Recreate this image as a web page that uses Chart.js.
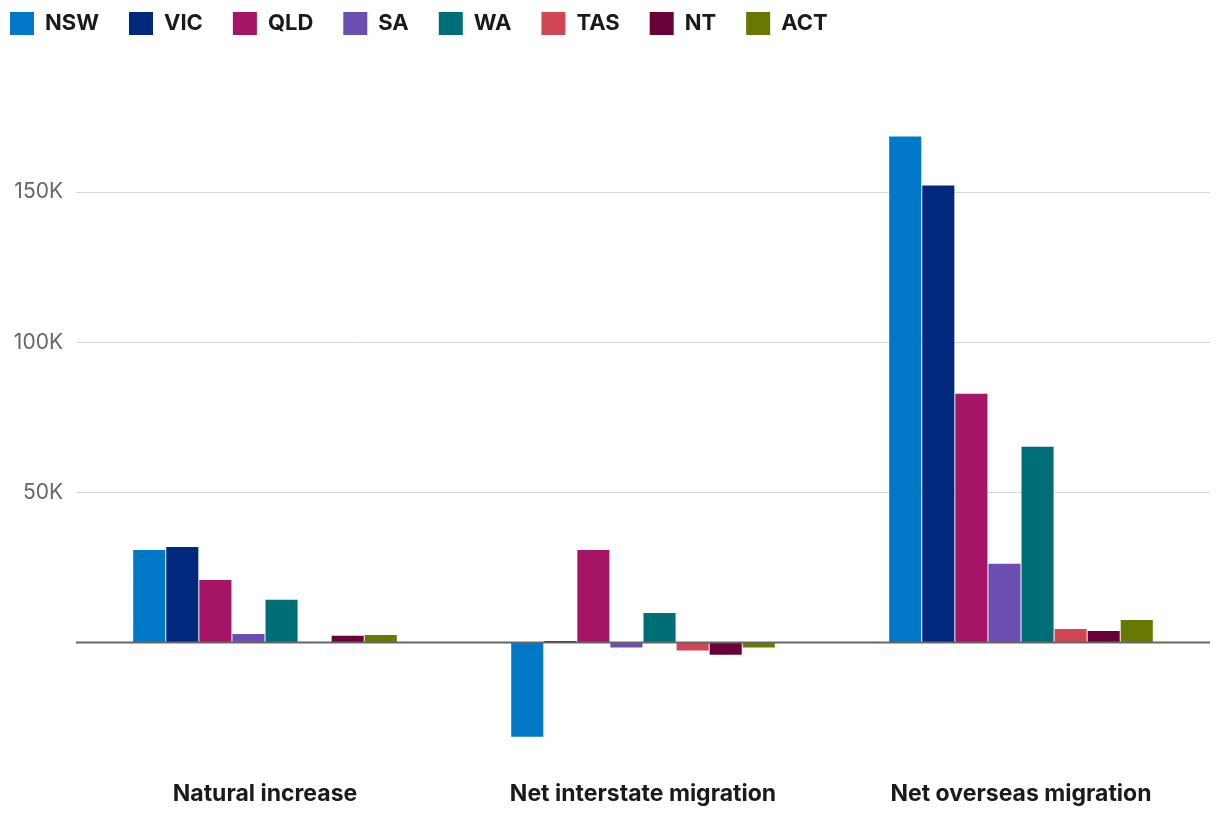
<!DOCTYPE html>
<html>
<head>
<meta charset="utf-8">
<script src="https://cdn.jsdelivr.net/npm/chart.js@4"></script>
<style>
  html, body { margin: 0; padding: 0; background: #fff; }
  #wrap { width: 1220px; height: 822px; position: relative; }
</style>
</head>
<body>
<div id="wrap"><canvas id="c"></canvas></div>
<script>
const categories = ['Natural increase', 'Net interstate migration', 'Net overseas migration'];
const states = ['NSW', 'VIC', 'QLD', 'SA', 'WA', 'TAS', 'NT', 'ACT'];
const nsw = [30800, -31400, 168500];
const vic = [31800, 500, 152200];
const qld = [20800, 30800, 82800];
const sa  = [2800, -1700, 26200];
const wa  = [14200, 9800, 65200];
const tas = [0, -2700, 4500];
const nt  = [2200, -4100, 3800];
const act = [2500, -1700, 7500];
const yTickValues = [50000, 100000, 150000];
const yTickLabels = ['50K', '100K', '150K'];

const seriesValues = [nsw, vic, qld, sa, wa, tas, nt, act];
const colors = ['#0078c8', '#00287d', '#a61465', '#6a4eb2', '#006e76', '#d04654', '#6a003a', '#687800'];

const zeroLine = {
  id: 'zeroLine',
  afterDatasetsDraw(chart) {
    const y = chart.scales.y.getPixelForValue(0);
    const { left, right } = chart.chartArea;
    const ctx = chart.ctx;
    ctx.save();
    ctx.strokeStyle = '#666666';
    ctx.lineWidth = 2;
    ctx.beginPath();
    ctx.moveTo(left, y);
    ctx.lineTo(right, y);
    ctx.stroke();
    ctx.restore();
  }
};

new Chart(document.getElementById('c'), {
  type: 'bar',
  data: {
    labels: categories,
    datasets: states.map((s, i) => ({
      label: s,
      data: seriesValues[i],
      backgroundColor: colors[i],
      borderWidth: 0,
      barPercentage: 0.97,
      categoryPercentage: 0.7
    }))
  },
  options: {
    responsive: true,
    maintainAspectRatio: false,
    animation: false,
    layout: { padding: { left: -20, top: -18, right: 10, bottom: 0 } },
    plugins: {
      tooltip: { enabled: false },
      legend: {
        position: 'top',
        align: 'start',
        labels: {
          boxWidth: 24,
          boxHeight: 23,
          padding: 30,
          color: '#1a1a1a',
          font: { family: 'Inter', size: 22, weight: 'bold' }
        }
      }
    },
    scales: {
      x: {
        grid: { display: false, drawTicks: false },
        border: { display: false },
        ticks: {
          padding: 17.5,
          color: '#1a1a1a',
          font: { family: 'Inter', size: 23, weight: 'bold' }
        },
        afterFit(scale) { scale.height = 59.5; }
      },
      y: {
        min: -40000,
        max: 199000,
        border: { display: false },
        grid: { color: '#d6d6d6', lineWidth: 1, drawTicks: false },
        afterBuildTicks(scale) {
          scale.ticks = yTickValues.map(v => ({ value: v }));
        },
        afterFit(scale) { scale.width = 96; },
        ticks: {
          padding: 13,
          color: '#666666',
          font: { family: 'Inter', size: 21 },
          callback(value) {
            const i = yTickValues.indexOf(value);
            return i >= 0 ? yTickLabels[i] : '';
          }
        }
      }
    }
  },
  plugins: [zeroLine]
});
</script>
</body>
</html>
